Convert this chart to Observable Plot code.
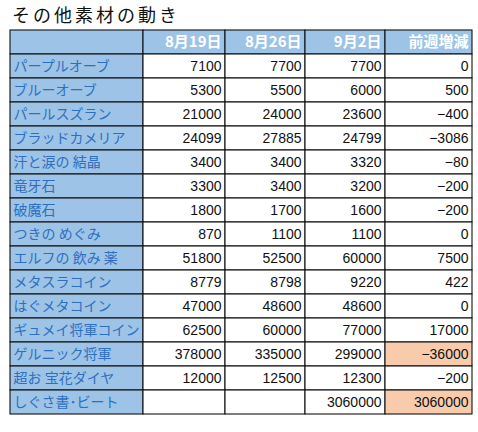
<!DOCTYPE html>
<html><head><meta charset="utf-8">
<script src="https://cdn.jsdelivr.net/npm/d3@7"></script>
<script src="https://cdn.jsdelivr.net/npm/@observablehq/plot@0.6"></script>
<style>
body{margin:0;background:#fff;}
#title{box-sizing:border-box;height:24px;padding-top:1px;line-height:26px;font-size:18px;letter-spacing:3px;padding-left:12px;color:#111;font-family:'Noto Sans CJK JP','Liberation Sans',sans-serif;white-space:nowrap;overflow:visible;}
#chart svg{display:block;}
</style>
</head><body>
<div id="title"></div>
<div id="chart"></div>
<script>
const title = "その他素材の動き";
const headers = ["8月19日", "8月26日", "9月2日", "前週増減"];
const items = ["パープルオーブ","ブルーオーブ","パールスズラン","ブラッドカメリア","汗と涙の 結晶","竜牙石","破魔石","つきの めぐみ","エルフの 飲み 薬","メタスラコイン","はぐメタコイン","ギュメイ将軍コイン","ゲルニック将軍","超お 宝花ダイヤ","しぐさ書･ビート"];
const aug19 = [7100,5300,21000,24099,3400,3300,1800,870,51800,8779,47000,62500,378000,12000,null];
const aug26 = [7700,5500,24000,27885,3400,3400,1700,1100,52500,8798,48600,60000,335000,12500,null];
const sep2  = [7700,6000,23600,24799,3320,3200,1600,1100,60000,9220,48600,77000,299000,12300,3060000];
const change = [0,500,-400,-3086,-80,-200,-200,0,7500,422,0,17000,-36000,-200,3060000];
const highlighted = ["ゲルニック将軍","しぐさ書･ビート"];

// layout (column widths in px)
const colWidths = [133, 82, 80, 80, 87];
const edges = [0];
colWidths.forEach(w => edges.push(edges[edges.length-1] + w));
const HEADER = "__header";
const blue = "#9dc3e6", orange = "#f8cbad";
const series = [aug19, aug26, sep2, change];
const fmt = v => v == null ? "" : (v < 0 ? "−" + Math.abs(v) : String(v));

const cells = [];
cells.push({row: HEADER, x1: edges[0], x2: edges[1], fill: blue, text: "", kind: "none"});
headers.forEach((h, j) => cells.push({row: HEADER, x1: edges[j+1], x2: edges[j+2], fill: blue, text: h, kind: "head"}));
items.forEach((name, i) => {
  cells.push({row: name, x1: edges[0], x2: edges[1], fill: blue, text: name, kind: "label"});
  series.forEach((s, j) => {
    const hl = j === 3 && highlighted.includes(name);
    cells.push({row: name, x1: edges[j+1], x2: edges[j+2], fill: hl ? orange : "#ffffff", text: fmt(s[i]), kind: "num"});
  });
});

document.getElementById("title").textContent = title;

const font = "'Noto Sans CJK JP', 'Liberation Sans', sans-serif";
const chart = Plot.plot({
  width: 478, height: 408,
  marginLeft: 10, marginRight: 6, marginTop: 0.5, marginBottom: 12,
  x: {domain: [0, edges[edges.length-1]], axis: null},
  y: {domain: [HEADER, ...items], axis: null, padding: 0},
  style: {fontFamily: font, background: "#fff", overflow: "visible"},
  marks: [
    Plot.barX(cells, {x1: "x1", x2: "x2", y: "row", fill: "fill", stroke: "#111", strokeWidth: 1.1, inset: 0}),
    Plot.text(cells.filter(d => d.kind === "label"), {x: "x1", y: "row", text: "text", textAnchor: "start", dx: 3, fill: "#2f6fc0", fontSize: 14}),
    Plot.text(cells.filter(d => d.kind === "num"), {x: "x2", y: "row", text: "text", textAnchor: "end", dx: -4, fill: "#111", fontSize: 14, fontFamily: "'Liberation Sans', Arial, sans-serif", letterSpacing: "1px"}),
    Plot.text(cells.filter(d => d.kind === "head"), {x: "x2", y: "row", text: "text", textAnchor: "end", dx: -4, fill: "#ffffff", fontSize: 15, fontWeight: "bold"})
  ]
});
document.getElementById("chart").appendChild(chart);
</script>
</body></html>
